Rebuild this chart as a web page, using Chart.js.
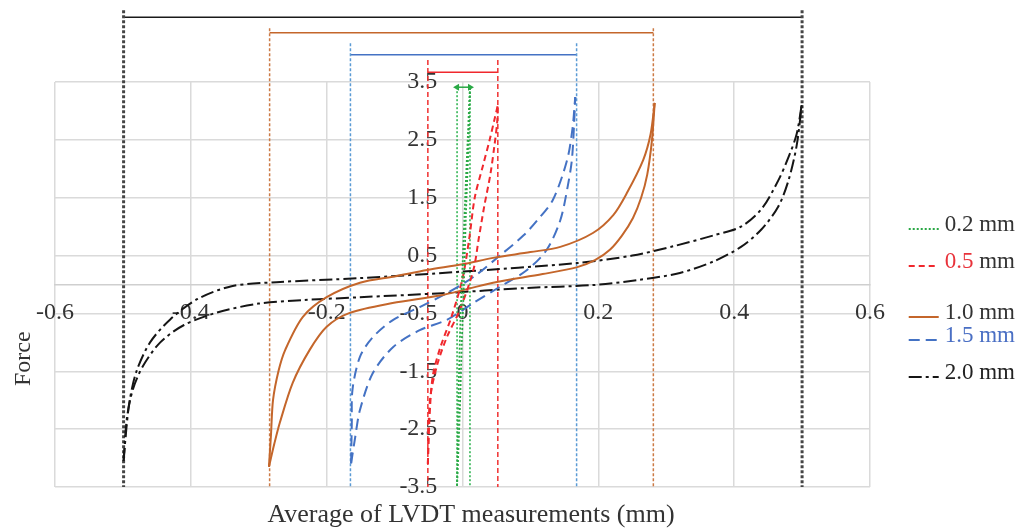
<!DOCTYPE html>
<html>
<head>
<meta charset="utf-8">
<script src="https://cdn.jsdelivr.net/npm/chart.js@4.4.1/dist/chart.umd.min.js"></script>
<style>
  html, body { margin: 0; padding: 0; background: #fff; }
  canvas { display: block; }
</style>
</head>
<body>
<canvas id="chart" width="1022" height="530"></canvas>
<script>
// Axis ticks
const xTicks = [-0.6, -0.4, -0.2, 0, 0.2, 0.4, 0.6];
const xTickLabels = ['-0.6', '-0.4', '-0.2', '0', '0.2', '0.4', '0.6'];
const yTicks = [-3.5, -2.5, -1.5, -0.5, 0.5, 1.5, 2.5, 3.5];
const yTickLabels = ['-3.5', '-2.5', '-1.5', '-0.5', '0.5', '1.5', '2.5', '3.5'];

const xTitle = 'Average of LVDT measurements (mm)';
const yTitle = 'Force';

// Amplitudes, in legend order
const amplitudes = ['0.2', '0.5', '1.0', '1.5', '2.0'];
const unit = 'mm';

// Hysteresis loops: [displacement (mm), force], upper and lower branch
const loop02Up = [[-0.008, -3.48], [-0.006, -2.0], [-0.003, -0.6], [0.000, 0.3], [0.004, 1.5], [0.008, 2.6], [0.011, 3.41]];
const loop02Lo = [[-0.008, -3.48], [-0.004, -2.2], [-0.001, -1.0], [0.002, 0.0], [0.005, 1.2], [0.009, 2.5], [0.011, 3.41]];

const loop05Up = [[-0.051, -3.1], [-0.049, -2.4], [-0.044, -1.6], [-0.033, -1.1], [-0.016, -0.55], [0.0, 0.1],
  [0.010, 0.8], [0.018, 1.5], [0.030, 2.05], [0.040, 2.5], [0.047, 2.85], [0.052, 3.1]];
const loop05Lo = [[-0.051, -3.1], [-0.048, -2.0], [-0.038, -1.42], [-0.023, -0.91], [-0.004, -0.44], [0.016, 0.25],
  [0.024, 0.8], [0.032, 1.35], [0.041, 1.9], [0.047, 2.4], [0.051, 2.8], [0.052, 3.1]];

const loop10Up = [[-0.285, -3.15], [-0.282, -2.6], [-0.279, -2.0], [-0.271, -1.5], [-0.261, -1.13], [-0.235, -0.56],
  [-0.200, -0.22], [-0.151, 0.03], [-0.100, 0.14], [-0.052, 0.25], [0.0, 0.35], [0.045, 0.46], [0.100, 0.56],
  [0.144, 0.65], [0.192, 0.89], [0.222, 1.2], [0.242, 1.58], [0.266, 2.15], [0.277, 2.6], [0.283, 3.14]];
const loop10Lo = [[-0.285, -3.15], [-0.277, -2.75], [-0.269, -2.39], [-0.250, -1.7], [-0.225, -1.13], [-0.200, -0.73],
  [-0.166, -0.49], [-0.103, -0.32], [-0.029, -0.18], [0.045, 0.03], [0.118, 0.18], [0.169, 0.3], [0.195, 0.42],
  [0.217, 0.6], [0.235, 0.85], [0.251, 1.15], [0.263, 1.5], [0.272, 1.9], [0.279, 2.5], [0.283, 3.14]];

const loop15Up = [[-0.164, -3.09], [-0.163, -2.4], [-0.162, -1.82], [-0.151, -1.25], [-0.132, -0.91], [-0.102, -0.61],
  [-0.063, -0.39], [-0.023, -0.15], [0.016, 0.13], [0.055, 0.5], [0.090, 0.85], [0.110, 1.11], [0.133, 1.46],
  [0.154, 2.15], [0.162, 2.7], [0.166, 3.24]];
const loop15Lo = [[-0.164, -3.09], [-0.158, -2.64], [-0.151, -2.17], [-0.132, -1.53], [-0.102, -1.08], [-0.063, -0.79],
  [-0.023, -0.61], [0.016, -0.32], [0.055, -0.04], [0.095, 0.25], [0.124, 0.6], [0.144, 1.11], [0.155, 1.7],
  [0.161, 2.15], [0.164, 2.7], [0.166, 3.24]];

const loop20Up = [[-0.499, -3.05], [-0.495, -2.5], [-0.490, -2.0], [-0.480, -1.5], [-0.460, -1.0], [-0.430, -0.6],
  [-0.390, -0.25], [-0.340, -0.03], [-0.274, 0.04], [-0.151, 0.11], [-0.004, 0.22], [0.168, 0.37], [0.250, 0.5],
  [0.310, 0.66], [0.370, 0.85], [0.410, 1.0], [0.440, 1.3], [0.465, 1.8], [0.480, 2.2], [0.492, 2.6], [0.500, 3.15]];
const loop20Lo = [[-0.499, -3.05], [-0.494, -2.3], [-0.485, -1.8], [-0.470, -1.4], [-0.445, -1.0], [-0.410, -0.7],
  [-0.360, -0.48], [-0.300, -0.33], [-0.235, -0.27], [-0.151, -0.22], [-0.029, -0.15], [0.095, -0.06], [0.192, -0.01],
  [0.260, 0.08], [0.320, 0.2], [0.370, 0.4], [0.410, 0.65], [0.440, 0.95], [0.465, 1.35], [0.480, 1.8], [0.492, 2.4],
  [0.500, 3.15]];

// Displacement range of each loop (dimension lines and arrows above the plot)
const rangeLeft = [-0.008, -0.051, -0.284, -0.165, -0.499];
const rangeRight = [0.011, 0.052, 0.281, 0.168, 0.500];
const rangeTop = [3.41, 3.88, 4.43, 4.17, 4.74];
const arrowLevel = [3.41, 3.67, 4.35, 3.97, 4.62];
const forceBottom = -3.5;

const loops = [
  [loop02Up, loop02Lo],
  [loop05Up, loop05Lo],
  [loop10Up, loop10Lo],
  [loop15Up, loop15Lo],
  [loop20Up, loop20Lo]
];

const curveStyles = [
  { color: '#2aa845', dash: [2, 2], width: 1.8 },
  { color: '#f0282d', dash: [6, 4], width: 2 },
  { color: '#c4662b', dash: [], width: 2 },
  { color: '#4472c4', dash: [11, 6], width: 2 },
  { color: '#151515', dash: [13, 4, 3, 4], width: 2 }
];
const rangeStyles = [
  { color: '#27b04a', dash: [2, 2], width: 1.5 },
  { color: '#f03030', dash: [5, 3], width: 1.5 },
  { color: '#cc7a45', dash: [3, 2], width: 1.5 },
  { color: '#5b9bd5', dash: [3, 2], width: 1.5 },
  { color: '#454545', dash: [3, 2], width: 3 }
];

const toPoints = arr => arr.map(p => ({ x: p[0], y: p[1] }));

const datasets = [];
amplitudes.forEach((a, i) => {
  const st = curveStyles[i];
  loops[i].forEach(branch => {
    datasets.push({
      label: a + ' ' + unit,
      data: toPoints(branch),
      showLine: true,
      borderColor: st.color,
      borderWidth: st.width,
      borderDash: st.dash,
      pointRadius: 0,
      tension: 0.3,
      fill: false,
      order: 1
    });
  });

  const rs = rangeStyles[i];
  [rangeLeft[i], rangeRight[i]].forEach(x => {
    datasets.push({
      data: [{ x: x, y: rangeTop[i] }, { x: x, y: forceBottom }],
      showLine: true,
      borderColor: rs.color,
      borderWidth: rs.width,
      borderDash: rs.dash,
      pointRadius: 0,
      clip: false,
      order: 2
    });
  });

  datasets.push({
    data: [{ x: rangeLeft[i], y: arrowLevel[i] }, { x: rangeRight[i], y: arrowLevel[i] }],
    showLine: true,
    borderColor: i === 4 ? '#1a1a1a' : st.color,
    borderWidth: 1.5,
    pointStyle: 'triangle',
    pointRadius: 4,
    pointRotation: [-90, 90],
    pointBackgroundColor: i === 4 ? '#1a1a1a' : st.color,
    pointBorderWidth: 0,
    clip: false,
    order: 2
  });
});

const serif = '"Liberation Serif", "DejaVu Serif", serif';

// Axis titles and legend
const captions = {
  id: 'captions',
  afterDraw(chart) {
    const ctx = chart.ctx;
    ctx.save();
    ctx.fillStyle = '#333';
    ctx.font = '26px ' + serif;
    ctx.textAlign = 'center';
    ctx.textBaseline = 'middle';
    ctx.fillText(xTitle, 471, 515);

    ctx.save();
    ctx.translate(24, 386);
    ctx.rotate(-Math.PI / 2);
    ctx.textAlign = 'left';
    ctx.font = '24px ' + serif;
    ctx.fillText(yTitle, 0, 0);
    ctx.restore();

    const rowY = [225, 262, 313, 336, 373];
    const valueColors = ['#333', '#e8323a', '#333', '#4a6fc4', '#222'];
    const unitColors = ['#333', '#333', '#333', '#4a6fc4', '#222'];
    const right = 1015;
    ctx.font = '23px ' + serif;
    ctx.textBaseline = 'middle';
    ctx.textAlign = 'left';
    amplitudes.forEach((a, i) => {
      const unitText = ' ' + unit;
      const wu = ctx.measureText(unitText).width;
      const wv = ctx.measureText(a).width;
      const start = right - wu - wv;
      ctx.fillStyle = valueColors[i];
      ctx.fillText(a, start, rowY[i]);
      ctx.fillStyle = unitColors[i];
      ctx.fillText(unitText, start + wv, rowY[i]);

      const st = curveStyles[i];
      ctx.strokeStyle = st.color;
      ctx.lineWidth = st.width;
      ctx.setLineDash(st.dash);
      ctx.beginPath();
      ctx.moveTo(start - 36, rowY[i] + 4);
      ctx.lineTo(start - 6, rowY[i] + 4);
      ctx.stroke();
    });
    ctx.restore();
  }
};

new Chart(document.getElementById('chart'), {
  type: 'scatter',
  data: { datasets: datasets },
  options: {
    responsive: false,
    animation: false,
    devicePixelRatio: 1,
    layout: { padding: { left: 55, right: 152, top: 82, bottom: 43 } },
    plugins: {
      legend: { display: false },
      tooltip: { enabled: false }
    },
    scales: {
      x: {
        type: 'linear',
        min: -0.6,
        max: 0.6,
        position: { y: 0 },
        afterBuildTicks: scale => { scale.ticks = xTicks.map(v => ({ value: v })); },
        ticks: {
          autoSkip: false,
          maxRotation: 0,
          padding: 14,
          color: '#333',
          font: { family: serif, size: 24 },
          callback: (v, i) => xTickLabels[i]
        },
        grid: { color: '#dadada', lineWidth: 1.5, drawTicks: false },
        border: { color: '#cfcfcf', width: 1.5 }
      },
      y: {
        type: 'linear',
        min: -3.5,
        max: 3.5,
        // labels sit just left of the zero line; the zero line itself is the x grid line
        position: { x: -0.037 },
        afterBuildTicks: scale => { scale.ticks = yTicks.map(v => ({ value: v })); },
        ticks: {
          autoSkip: false,
          padding: 0,
          color: '#333',
          font: { family: serif, size: 24 },
          callback: (v, i) => yTickLabels[i]
        },
        grid: { color: '#dadada', lineWidth: 1.5, drawTicks: false },
        border: { display: false }
      }
    }
  },
  plugins: [captions]
});
</script>
</body>
</html>
